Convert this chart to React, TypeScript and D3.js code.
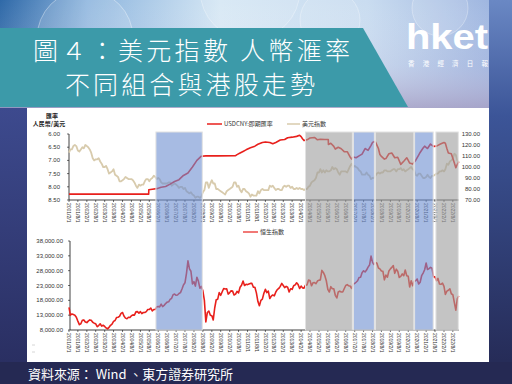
import React from "react";
import * as d3 from "d3";

// ---------- DATA ----------
const usdcny: [string, number][] = [
  ["2001-02-01", 8.277], ["2005-07-20", 8.277], ["2005-07-22", 8.11], ["2005-10", 8.09], ["2006-01", 8.07],
  ["2006-04", 8.02], ["2006-07", 7.99], ["2006-10", 7.9], ["2007-01", 7.8], ["2007-04", 7.73], ["2007-07", 7.57],
  ["2007-10", 7.48], ["2008-01", 7.25], ["2008-04", 7.0], ["2008-07", 6.84], ["2008-10", 6.83], ["2009-06", 6.83],
  ["2010-06", 6.82], ["2010-07", 6.78], ["2010-09", 6.72], ["2010-11", 6.66], ["2011-01", 6.6], ["2011-04", 6.52],
  ["2011-07", 6.46], ["2011-09", 6.39], ["2011-12", 6.32], ["2012-02", 6.3], ["2012-05", 6.32], ["2012-07", 6.37],
  ["2012-09", 6.32], ["2012-12", 6.23], ["2013-03", 6.21], ["2013-05", 6.14], ["2013-08", 6.12], ["2013-11", 6.09],
  ["2014-01", 6.05], ["2014-02", 6.1], ["2014-03", 6.18], ["2014-04", 6.25], ["2014-06", 6.22], ["2014-08", 6.15],
  ["2014-11", 6.13], ["2015-01", 6.22], ["2015-03", 6.2], ["2015-06", 6.21], ["2015-08-10", 6.21], ["2015-08-13", 6.4],
  ["2015-10", 6.35], ["2015-12", 6.47], ["2016-01", 6.57], ["2016-03", 6.5], ["2016-05", 6.56], ["2016-07", 6.67],
  ["2016-09", 6.67], ["2016-11", 6.88], ["2016-12", 6.95], ["2017-01", 6.87], ["2017-03", 6.9], ["2017-05", 6.83],
  ["2017-07", 6.76], ["2017-09", 6.55], ["2017-11", 6.62], ["2018-01", 6.43], ["2018-02", 6.32], ["2018-03", 6.29],
  ["2018-04", 6.3], ["2018-06", 6.55], ["2018-07", 6.78], ["2018-08", 6.85], ["2018-10", 6.95], ["2018-11", 6.93],
  ["2019-01", 6.75], ["2019-03", 6.72], ["2019-05", 6.9], ["2019-07", 6.88], ["2019-09", 7.15], ["2019-11", 7.03],
  ["2020-01", 6.9], ["2020-02", 7.0], ["2020-03", 7.1], ["2020-05", 7.14], ["2020-07", 7.0], ["2020-09", 6.8],
  ["2020-10", 6.7], ["2020-12", 6.53], ["2021-01", 6.46], ["2021-03", 6.55], ["2021-05", 6.38], ["2021-07", 6.47],
  ["2021-09", 6.46], ["2021-12", 6.37], ["2022-02", 6.32], ["2022-03", 6.35], ["2022-04", 6.55], ["2022-05", 6.72],
  ["2022-07", 6.75], ["2022-09", 7.1], ["2022-10", 7.28], ["2022-11", 7.15], ["2022-12-01", 7.05],
];

const dxy: [string, number][] = [
  ["2001-02", 113], ["2001-03", 116], ["2001-04", 116], ["2001-05", 119], ["2001-06", 120], ["2001-07", 119],
  ["2001-08", 115], ["2001-09", 114], ["2001-10", 116], ["2001-11", 118], ["2001-12", 117], ["2002-01", 120],
  ["2002-02", 119], ["2002-03", 118], ["2002-04", 116], ["2002-05", 113], ["2002-06", 108], ["2002-07", 106],
  ["2002-08", 107], ["2002-09", 107], ["2002-10", 108], ["2002-11", 105], ["2002-12", 103], ["2003-01", 100],
  ["2003-02", 100], ["2003-03", 101], ["2003-04", 98], ["2003-05", 94], ["2003-06", 95], ["2003-07", 96],
  ["2003-08", 98], ["2003-09", 93], ["2003-10", 92], ["2003-11", 91], ["2003-12", 87], ["2004-01", 87],
  ["2004-02", 88], ["2004-03", 89], ["2004-04", 91], ["2004-05", 90], ["2004-06", 89], ["2004-07", 89],
  ["2004-08", 89], ["2004-09", 88], ["2004-10", 86], ["2004-11", 83], ["2004-12", 81], ["2005-01", 84],
  ["2005-02", 83], ["2005-03", 84], ["2005-04", 84], ["2005-05", 87], ["2005-06", 89], ["2005-07", 89],
  ["2005-08", 87], ["2005-09", 89], ["2005-10", 90], ["2005-11", 92], ["2005-12", 91], ["2006-01", 89],
  ["2006-02", 90], ["2006-03", 89], ["2006-04", 86], ["2006-05", 85], ["2006-06", 85], ["2006-07", 85],
  ["2006-08", 85], ["2006-09", 86], ["2006-10", 86], ["2006-11", 83], ["2006-12", 84], ["2007-01", 85],
  ["2007-02", 84], ["2007-03", 83], ["2007-04", 81], ["2007-05", 82], ["2007-06", 82], ["2007-07", 80],
  ["2007-08", 81], ["2007-09", 78], ["2007-10", 77], ["2007-11", 76], ["2007-12", 77], ["2008-01", 75],
  ["2008-02", 74], ["2008-03", 72], ["2008-04", 73], ["2008-05", 73], ["2008-06", 72], ["2008-07", 73],
  ["2008-08", 77], ["2008-09", 79], ["2008-10", 86], ["2008-11", 86], ["2008-12", 81], ["2009-01", 85],
  ["2009-02", 88], ["2009-03", 85], ["2009-04", 85], ["2009-05", 80], ["2009-06", 80], ["2009-07", 79],
  ["2009-08", 78], ["2009-09", 77], ["2009-10", 76], ["2009-11", 75], ["2009-12", 78], ["2010-01", 79],
  ["2010-02", 80], ["2010-03", 81], ["2010-04", 82], ["2010-05", 86], ["2010-06", 86], ["2010-07", 82],
  ["2010-08", 83], ["2010-09", 79], ["2010-10", 77], ["2010-11", 80], ["2010-12", 80], ["2011-01", 78],
  ["2011-02", 77], ["2011-03", 76], ["2011-04", 73], ["2011-05", 75], ["2011-06", 74], ["2011-07", 74],
  ["2011-08", 74], ["2011-09", 78], ["2011-10", 76], ["2011-11", 79], ["2011-12", 80], ["2012-01", 79],
  ["2012-02", 79], ["2012-03", 79], ["2012-04", 79], ["2012-05", 83], ["2012-06", 82], ["2012-07", 83],
  ["2012-08", 81], ["2012-09", 79], ["2012-10", 80], ["2012-11", 80], ["2012-12", 79], ["2013-01", 79],
  ["2013-02", 82], ["2013-03", 83], ["2013-04", 82], ["2013-05", 83], ["2013-06", 83], ["2013-07", 81],
  ["2013-08", 82], ["2013-09", 80], ["2013-10", 80], ["2013-11", 81], ["2013-12", 80], ["2014-01", 81],
  ["2014-02", 80], ["2014-03", 80], ["2014-04", 79], ["2014-05", 80], ["2014-06", 80], ["2014-07", 82],
  ["2014-08", 83], ["2014-09", 86], ["2014-10", 87], ["2014-11", 88], ["2014-12", 90], ["2015-01", 95],
  ["2015-02", 95], ["2015-03", 98], ["2015-04", 95], ["2015-05", 97], ["2015-06", 95], ["2015-07", 97],
  ["2015-08", 96], ["2015-09", 96], ["2015-10", 97], ["2015-11", 100], ["2015-12", 98], ["2016-01", 99],
  ["2016-02", 98], ["2016-03", 95], ["2016-04", 93], ["2016-05", 96], ["2016-06", 96], ["2016-07", 96],
  ["2016-08", 96], ["2016-09", 95], ["2016-10", 98], ["2016-11", 101], ["2016-12", 103], ["2017-01", 100],
  ["2017-02", 101], ["2017-03", 100], ["2017-04", 99], ["2017-05", 97], ["2017-06", 96], ["2017-07", 93],
  ["2017-08", 93], ["2017-09", 93], ["2017-10", 95], ["2017-11", 93], ["2017-12", 92], ["2018-01", 89],
  ["2018-02", 90], ["2018-03", 90], ["2018-04", 92], ["2018-05", 94], ["2018-06", 95], ["2018-07", 94],
  ["2018-08", 95], ["2018-09", 95], ["2018-10", 97], ["2018-11", 97], ["2018-12", 96], ["2019-01", 96],
  ["2019-02", 96], ["2019-03", 97], ["2019-04", 98], ["2019-05", 98], ["2019-06", 96], ["2019-07", 98],
  ["2019-08", 98], ["2019-09", 99], ["2019-10", 97], ["2019-11", 98], ["2019-12", 96], ["2020-01", 97],
  ["2020-02", 98], ["2020-03", 99], ["2020-04", 100], ["2020-05", 98], ["2020-06", 97], ["2020-07", 93],
  ["2020-08", 92], ["2020-09", 94], ["2020-10", 94], ["2020-11", 92], ["2020-12", 90], ["2021-01", 90],
  ["2021-02", 91], ["2021-03", 93], ["2021-04", 91], ["2021-05", 90], ["2021-06", 92], ["2021-07", 92],
  ["2021-08", 93], ["2021-09", 94], ["2021-10", 94], ["2021-11", 96], ["2021-12", 96], ["2022-01", 97],
  ["2022-02", 96], ["2022-03", 98], ["2022-04", 103], ["2022-05", 102], ["2022-06", 105], ["2022-07", 106],
  ["2022-08", 108], ["2022-09", 112], ["2022-10", 111], ["2022-11", 106], ["2022-12", 104],
];

const hsi: [string, number][] = [
  ["2001-02", 15600], ["2001-03", 13000], ["2001-04", 13400], ["2001-05", 13200], ["2001-06", 13000],
  ["2001-07", 12300], ["2001-08", 11000], ["2001-09", 9800], ["2001-10", 10100], ["2001-11", 11300],
  ["2001-12", 11400], ["2002-01", 10700], ["2002-02", 10500], ["2002-03", 11000], ["2002-04", 11400],
  ["2002-05", 11300], ["2002-06", 10600], ["2002-07", 10300], ["2002-08", 10100], ["2002-09", 9100],
  ["2002-10", 9500], ["2002-11", 10100], ["2002-12", 9300], ["2003-01", 9600], ["2003-02", 9200],
  ["2003-03", 8700], ["2003-04", 8400], ["2003-05", 8900], ["2003-06", 9600], ["2003-07", 10000],
  ["2003-08", 10900], ["2003-09", 11200], ["2003-10", 12200], ["2003-11", 12300], ["2003-12", 12600],
  ["2004-01", 13600], ["2004-02", 13900], ["2004-03", 12700], ["2004-04", 12000], ["2004-05", 11800],
  ["2004-06", 12300], ["2004-07", 12200], ["2004-08", 12800], ["2004-09", 13100], ["2004-10", 13000],
  ["2004-11", 14100], ["2004-12", 14200], ["2005-01", 13700], ["2005-02", 14200], ["2005-03", 13500],
  ["2005-04", 13900], ["2005-05", 13900], ["2005-06", 14200], ["2005-07", 14900], ["2005-08", 14900],
  ["2005-09", 15400], ["2005-10", 14400], ["2005-11", 14900], ["2005-12", 14900], ["2006-01", 15800],
  ["2006-02", 15900], ["2006-03", 15800], ["2006-04", 16700], ["2006-05", 15900], ["2006-06", 16300],
  ["2006-07", 16900], ["2006-08", 17400], ["2006-09", 17500], ["2006-10", 18300], ["2006-11", 18700],
  ["2006-12", 19900], ["2007-01", 20100], ["2007-02", 19700], ["2007-03", 19800], ["2007-04", 20300],
  ["2007-05", 20600], ["2007-06", 21800], ["2007-07", 23200], ["2007-08", 23900], ["2007-09", 27100],
  ["2007-10", 31300], ["2007-11", 28600], ["2007-12", 27800], ["2008-01", 23500], ["2008-02", 24300],
  ["2008-03", 22800], ["2008-04", 25800], ["2008-05", 24500], ["2008-06", 22100], ["2008-07", 22700],
  ["2008-08", 21200], ["2008-09", 18000], ["2008-10", 10700], ["2008-11", 13900], ["2008-12", 14400],
  ["2009-01", 13000], ["2009-02", 12800], ["2009-03", 11400], ["2009-04", 15500], ["2009-05", 18200],
  ["2009-06", 18400], ["2009-07", 20600], ["2009-08", 19700], ["2009-09", 20900], ["2009-10", 22000],
  ["2009-11", 21800], ["2009-12", 21900], ["2010-01", 20100], ["2010-02", 20600], ["2010-03", 21200],
  ["2010-04", 21100], ["2010-05", 19800], ["2010-06", 20100], ["2010-07", 21000], ["2010-08", 20500],
  ["2010-09", 22400], ["2010-10", 23100], ["2010-11", 24500], ["2010-12", 23000], ["2011-01", 23400],
  ["2011-02", 23300], ["2011-03", 23500], ["2011-04", 23700], ["2011-05", 23700], ["2011-06", 22400],
  ["2011-07", 22400], ["2011-08", 20500], ["2011-09", 17600], ["2011-10", 16200], ["2011-11", 17990],
  ["2011-12", 18400], ["2012-01", 20400], ["2012-02", 21700], ["2012-03", 20600], ["2012-04", 21100],
  ["2012-05", 18600], ["2012-06", 19400], ["2012-07", 19800], ["2012-08", 19500], ["2012-09", 20800],
  ["2012-10", 21600], ["2012-11", 22000], ["2012-12", 22700], ["2013-01", 23700], ["2013-02", 23000],
  ["2013-03", 22300], ["2013-04", 22700], ["2013-05", 22400], ["2013-06", 20800], ["2013-07", 21900],
  ["2013-08", 21700], ["2013-09", 22900], ["2013-10", 23200], ["2013-11", 23900], ["2013-12", 23300],
  ["2014-01", 22000], ["2014-02", 22800], ["2014-03", 22200], ["2014-04", 22100], ["2014-05", 23100],
  ["2014-06", 23200], ["2014-07", 24800], ["2014-08", 24700], ["2014-09", 22900], ["2014-10", 23900],
  ["2014-11", 24000], ["2014-12", 23600], ["2015-01", 24500], ["2015-02", 24800], ["2015-03", 24900],
  ["2015-04", 28100], ["2015-05", 27400], ["2015-06", 26300], ["2015-07", 24600], ["2015-08", 21700],
  ["2015-09", 20800], ["2015-10", 22600], ["2015-11", 21900], ["2015-12", 21900], ["2016-01", 19700],
  ["2016-02", 18800], ["2016-03", 20800], ["2016-04", 21100], ["2016-05", 20800], ["2016-06", 20800],
  ["2016-07", 21900], ["2016-08", 23000], ["2016-09", 23300], ["2016-10", 22900], ["2016-11", 22800],
  ["2016-12", 22000], ["2017-01", 23400], ["2017-02", 23700], ["2017-03", 24100], ["2017-04", 24600],
  ["2017-05", 25700], ["2017-06", 25800], ["2017-07", 27300], ["2017-08", 27970], ["2017-09", 27550],
  ["2017-10", 28200], ["2017-11", 29200], ["2017-12", 29900], ["2018-01", 32900], ["2018-02", 30800],
  ["2018-03", 30100], ["2018-04", 30800], ["2018-05", 30500], ["2018-06", 28900], ["2018-07", 28600],
  ["2018-08", 27900], ["2018-09", 27800], ["2018-10", 24900], ["2018-11", 26500], ["2018-12", 25800],
  ["2019-01", 27900], ["2019-02", 28600], ["2019-03", 29100], ["2019-04", 29700], ["2019-05", 27100],
  ["2019-06", 28500], ["2019-07", 27800], ["2019-08", 25700], ["2019-09", 26100], ["2019-10", 26900],
  ["2019-11", 26300], ["2019-12", 28200], ["2020-01", 26300], ["2020-02", 26100], ["2020-03", 22500],
  ["2020-04", 24600], ["2020-05", 22900], ["2020-06", 24400], ["2020-07", 24600], ["2020-08", 25200],
  ["2020-09", 23500], ["2020-10", 24100], ["2020-11", 26300], ["2020-12", 27200], ["2021-01", 28300],
  ["2021-02", 30600], ["2021-03", 28400], ["2021-04", 28700], ["2021-05", 29100], ["2021-06", 28800],
  ["2021-07", 25900], ["2021-08", 25900], ["2021-09", 24600], ["2021-10", 25400], ["2021-11", 23500],
  ["2021-12", 23400], ["2022-01", 23800], ["2022-02", 22700], ["2022-03", 20000], ["2022-04", 21100],
  ["2022-05", 21400], ["2022-06", 21900], ["2022-07", 20200], ["2022-08", 19900], ["2022-09", 17200],
  ["2022-10", 14700], ["2022-11", 18600], ["2022-12", 19500],
];

const bands: { start: string; end: string; kind: "blue" | "gray" }[] = [
  { start: "2005-12-15", end: "2008-07-20", kind: "blue" },
  { start: "2014-05-01", end: "2016-12-15", kind: "gray" },
  { start: "2017-01-05", end: "2018-03-10", kind: "blue" },
  { start: "2018-04-01", end: "2020-05-25", kind: "gray" },
  { start: "2020-06-10", end: "2021-06-25", kind: "blue" },
  { start: "2021-08-20", end: "2022-11-20", kind: "gray" },
];

const leftTicks = [6.0, 6.5, 7.0, 7.5, 8.0, 8.5];
const rightTicks = [70, 80, 90, 100, 110, 120, 130];
const hsiTicks = [8000, 13000, 18000, 23000, 28000, 33000, 38000];
const xStart = "2001-02-01";
const xEnd = "2022-12-05";

const titleLine1 = "圖４：美元指數 人幣滙率";
const titleLine2 = "不同組合與港股走勢";
const sourceText = "資料來源： Wind 、東方證券研究所";
const legendTop = ["USDCNY:即期匯率", "美元指數"];
const legendBottom = "恒生指數";
const leftAxisTitle = ["匯率", "人民幣/美元"];

// ---------- HELPERS ----------
const parse = (s: string) => {
  const p = s.split("-").map(Number);
  return new Date(p[0], p[1] - 1, p[2] ?? 1);
};

const RED = "#e8201c";
const BEIGE = "#d8cbad";
const LABEL_FONT = "'Liberation Sans', Arial, sans-serif";
const CJK = "'Noto Sans CJK TC', 'Noto Sans CJK SC', sans-serif";

export default function App() {
  const x = d3.scaleTime().domain([parse(xStart), parse(xEnd)]).range([69, 459]);
  const yL = d3.scaleLinear().domain([6.0, 8.5]).range([134, 200]);
  const yR = d3.scaleLinear().domain([70, 130]).range([200, 134]);
  const yH = d3.scaleLinear().domain([8000, 38000]).range([330, 241]);

  const lineCny = d3.line<[string, number]>().x((d) => x(parse(d[0]))).y((d) => yL(d[1]));
  const lineDxy = d3.line<[string, number]>().x((d) => x(parse(d[0]))).y((d) => yR(d[1]));
  const lineHsi = d3.line<[string, number]>().x((d) => x(parse(d[0]))).y((d) => yH(d[1]));

  const tickDates = d3.timeMonth.range(parse(xStart), parse("2022-10-01"), 6);
  const fmt = d3.timeFormat("%Y/%-m/%-d");
  const fmt2 = d3.format(".2f");
  const fmtH = d3.format(",.2f");

  return (
    <svg width={512} height={384} style={{ position: "absolute", left: 0, top: 0, display: "block" }}>
      <defs>
        <linearGradient id="bgV" x1="0" y1="0" x2="0" y2="1">
          <stop offset="0" stopColor="#5a7fc0" />
          <stop offset="0.35" stopColor="#3a4a8c" />
          <stop offset="1" stopColor="#232650" />
        </linearGradient>
        <linearGradient id="topH" x1="0" y1="0" x2="1" y2="0">
          <stop offset="0" stopColor="#2f69a8" />
          <stop offset="0.18" stopColor="#8db5de" />
          <stop offset="0.45" stopColor="#d4e6f4" />
          <stop offset="0.75" stopColor="#c9dcf0" />
          <stop offset="1" stopColor="#9fb6e0" />
        </linearGradient>
        <linearGradient id="topV" x1="0" y1="0" x2="0" y2="1">
          <stop offset="0" stopColor="#ffffff" stopOpacity="0" />
          <stop offset="0.6" stopColor="#c8c4e0" stopOpacity="0.2" />
          <stop offset="1" stopColor="#a8a0c4" stopOpacity="0.8" />
        </linearGradient>
        <linearGradient id="rightV" x1="0" y1="0" x2="0" y2="1">
          <stop offset="0" stopColor="#6a88c4" />
          <stop offset="0.3" stopColor="#3c5598" />
          <stop offset="1" stopColor="#242852" />
        </linearGradient>
        <linearGradient id="leftV" x1="0" y1="0" x2="0" y2="1">
          <stop offset="0" stopColor="#3d4a8e" />
          <stop offset="1" stopColor="#2a2f62" />
        </linearGradient>
      </defs>

      {/* background */}
      <rect x={0} y={0} width={512} height={384} fill="url(#bgV)" />
      <rect x={0} y={0} width={490} height={108} fill="url(#topH)" />
      <rect x={0} y={0} width={490} height={108} fill="url(#topV)" />
      <circle cx={85} cy={38} r={48} fill="#ffffff" fillOpacity={0.12} stroke="#ffffff" strokeOpacity={0.35} />
      <circle cx={250} cy={-10} r={50} fill="#ffffff" fillOpacity={0.12} stroke="#ffffff" strokeOpacity={0.3} />
      <circle cx={330} cy={20} r={30} fill="#ffffff" fillOpacity={0.1} stroke="#ffffff" strokeOpacity={0.3} />
      <circle cx={440} cy={8} r={28} fill="#ffffff" fillOpacity={0.12} stroke="#ffffff" strokeOpacity={0.3} />
      <rect x={489} y={0} width={23} height={384} fill="url(#rightV)" />
      <rect x={0} y={108} width={27} height={254} fill="url(#leftV)" />
      <rect x={0} y={362} width={512} height={22} fill="#252953" />

      {/* title band */}
      <polygon points="0,28 363,28 408,107 0,107" fill="#3c9aa9" />
      <text x={33} y={60} fontFamily={CJK} fontSize={25} fontWeight={300} fill="#ffffff" textLength={317} lengthAdjust="spacing">
        {titleLine1}
      </text>
      <text x={65} y={94} fontFamily={CJK} fontSize={25} fontWeight={300} fill="#ffffff" textLength={250} lengthAdjust="spacing">
        {titleLine2}
      </text>

      {/* logo */}
      <text x={406} y={49} fontFamily={LABEL_FONT} fontWeight="bold" fontSize={35} fill="#ffffff" textLength={82} lengthAdjust="spacingAndGlyphs">
        hket
      </text>
      <text x={408} y={66} fontFamily={CJK} fontSize={6.5} fill="#ffffff" textLength={80} lengthAdjust="spacing">
        香港經濟日報
      </text>

      {/* white panel */}
      <rect x={27} y={108} width={462} height={254} fill="#ffffff" />

      {/* ---- top chart ---- */}
      <text x={52} y={118} fontFamily={CJK} fontSize={6} fontWeight="bold" fill="#222" textAnchor="middle">{leftAxisTitle[0]}</text>
      <text x={49} y={126} fontFamily={CJK} fontSize={6} fontWeight="bold" fill="#222" textAnchor="middle">{leftAxisTitle[1]}</text>

      {/* legend top */}
      <line x1={207} x2={222} y1={124} y2={124} stroke={RED} strokeWidth={1.5} />
      <text x={224} y={126} fontFamily={CJK} fontSize={6} fill="#333">{legendTop[0]}</text>
      <line x1={287} x2={300} y1={124} y2={124} stroke={BEIGE} strokeWidth={1.5} />
      <text x={302} y={126} fontFamily={CJK} fontSize={6} fill="#333">{legendTop[1]}</text>

      {/* left axis */}
      <line x1={69} x2={69} y1={134} y2={200} stroke="#111" strokeWidth={0.8} />
      {leftTicks.map((t) => (
        <g key={"l" + t}>
          <line x1={67} x2={69} y1={yL(t)} y2={yL(t)} stroke="#111" strokeWidth={0.6} />
          <text x={60} y={yL(t) + 2} fontFamily={LABEL_FONT} fontSize={6} fill="#333" textAnchor="end">{fmt2(t)}</text>
        </g>
      ))}
      {rightTicks.map((t) => (
        <text key={"r" + t} x={480} y={yR(t) + 2} fontFamily={LABEL_FONT} fontSize={6} fill="#333" textAnchor="end">{fmt2(t)}</text>
      ))}
      <line x1={69} x2={459} y1={200} y2={200} stroke="#111" strokeWidth={0.8} />
      {tickDates.map((d, i) => (
        <g key={"tx" + i}>
          <line x1={x(d)} x2={x(d)} y1={200} y2={202} stroke="#111" strokeWidth={0.6} />
          <text transform={`translate(${x(d) - 1.8},203) rotate(90)`} fontFamily={LABEL_FONT} fontSize={5} fill="#333">{fmt(d)}</text>
        </g>
      ))}
      <path d={lineDxy(dxy) ?? ""} fill="none" stroke={BEIGE} strokeWidth={1.8} strokeLinejoin="round" />
      <path d={lineCny(usdcny) ?? ""} fill="none" stroke={RED} strokeWidth={1.6} strokeLinejoin="round" />

      {/* ---- bottom chart ---- */}
      <line x1={243} x2={258} y1={232} y2={232} stroke={RED} strokeWidth={1.2} />
      <text x={260} y={234} fontFamily={CJK} fontSize={6} fill="#333">{legendBottom}</text>
      <line x1={70} x2={70} y1={241} y2={330} stroke="#111" strokeWidth={0.8} />
      {hsiTicks.map((t) => (
        <g key={"h" + t}>
          <line x1={68} x2={70} y1={yH(t)} y2={yH(t)} stroke="#111" strokeWidth={0.6} />
          <text x={63} y={yH(t) + 2} fontFamily={LABEL_FONT} fontSize={6} fill="#333" textAnchor="end">{fmtH(t)}</text>
        </g>
      ))}
      <line x1={70} x2={459} y1={330} y2={330} stroke="#111" strokeWidth={0.8} />
      {tickDates.map((d, i) => (
        <g key={"bx" + i}>
          <line x1={x(d)} x2={x(d)} y1={330} y2={332} stroke="#111" strokeWidth={0.6} />
          <text transform={`translate(${x(d) - 1.8},333) rotate(90)`} fontFamily={LABEL_FONT} fontSize={5} fill="#333">{fmt(d)}</text>
        </g>
      ))}
      <path d={lineHsi(hsi) ?? ""} fill="none" stroke={RED} strokeWidth={1.6} strokeLinejoin="round" />

      {/* shaded periods */}
      {bands.map((b, i) => (
        <rect
          key={"b" + i}
          x={x(parse(b.start))}
          y={132}
          width={x(parse(b.end)) - x(parse(b.start))}
          height={198}
          fill={b.kind === "blue" ? "#6c8ed0" : "#9d9d9d"}
          fillOpacity={0.6}
          stroke="#e2e2e2"
          strokeWidth={1}
        />
      ))}

      {/* small marks bottom-left */}
      <line x1={32} x2={35} y1={345} y2={345} stroke="#ccc" strokeWidth={0.8} />
      <line x1={32} x2={35} y1={352} y2={352} stroke="#ccc" strokeWidth={0.8} />

      {/* source */}
      <text x={28} y={379} fontFamily={CJK} fontSize={13} fill="#ffffff" textLength={205} lengthAdjust="spacing">{sourceText}</text>
    </svg>
  );
}
